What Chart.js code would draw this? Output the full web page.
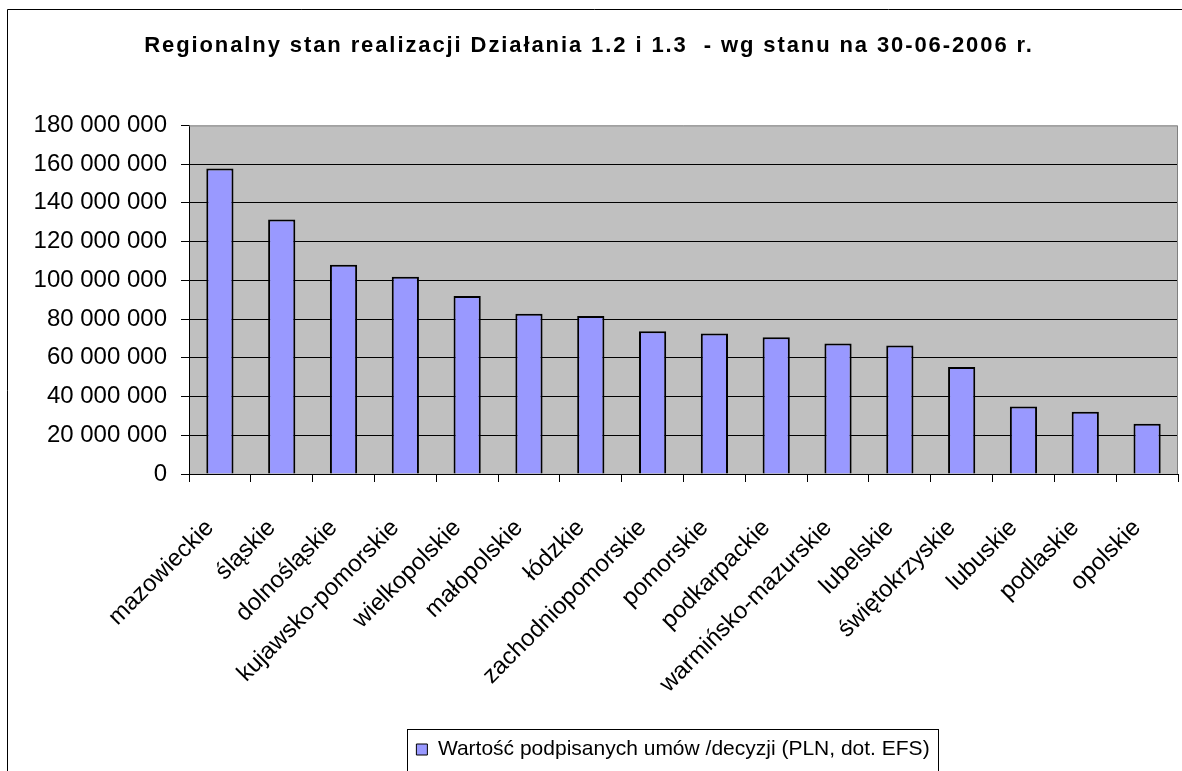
<!DOCTYPE html>
<html>
<head>
<meta charset="utf-8">
<script src="https://cdn.jsdelivr.net/npm/chart.js@4.4.1/dist/chart.umd.min.js"></script>
<style>
  html, body { margin: 0; padding: 0; background: #fff; }
</style>
</head>
<body>
<canvas id="chart" width="1182" height="771"></canvas>
<script>
// data
const regions = [
  'mazowieckie', 'śląskie', 'dolnośląskie', 'kujawsko-pomorskie', 'wielkopolskie',
  'małopolskie', 'łódzkie', 'zachodniopomorskie', 'pomorskie', 'podkarpackie',
  'warmińsko-mazurskie', 'lubelskie', 'świętokrzyskie', 'lubuskie', 'podlaskie', 'opolskie'
];
const contractValues = [
  157800000, 131400000, 108000000, 101900000, 91900000,
  82700000, 81600000, 73700000, 72600000, 70600000,
  67400000, 66400000, 55300000, 34800000, 32100000, 26000000
];
const seriesLabel = 'Wartość podpisanych umów /decyzji (PLN, dot. EFS)';
const chartTitle = 'Regionalny stan realizacji Działania 1.2 i 1.3  - wg stanu na 30-06-2006 r.';
const yMin = 0;
const yMax = 180000000;
const yStep = 20000000;

const FONT = '"Liberation Sans", Arial, sans-serif';

function spaced(v) {
  return String(v).replace(/\B(?=(\d{3})+(?!\d))/g, ' ');
}

// gray plot area, frames and legend box
const decor = {
  id: 'decor',
  beforeDraw(chart) {
    const { ctx, chartArea: a } = chart;
    ctx.save();
    ctx.fillStyle = '#ffffff';
    ctx.fillRect(0, 0, chart.width, chart.height);
    ctx.fillStyle = '#c0c0c0';
    ctx.fillRect(a.left, a.top, a.right - a.left, a.bottom - a.top);
    ctx.restore();
  },
  afterLayout(chart) {
    // legend sits right of centre in the original
    chart.legend.left += 84;
    chart.legend.right += 84;
  },
  afterDraw(chart) {
    const { ctx, chartArea: a } = chart;
    ctx.save();
    ctx.lineWidth = 1;
    ctx.strokeStyle = '#808080';
    ctx.beginPath();
    ctx.moveTo(a.left, a.top + 0.5);
    ctx.lineTo(a.right - 0.5, a.top + 0.5);
    ctx.lineTo(a.right - 0.5, a.bottom);
    ctx.stroke();

    // outer frame
    ctx.strokeStyle = '#000';
    ctx.beginPath();
    ctx.moveTo(7.5, chart.height);
    ctx.lineTo(7.5, 9.5);
    ctx.lineTo(chart.width, 9.5);
    ctx.stroke();

    // legend frame
    const lg = chart.legend;
    const lo = chart.options.plugins.legend.labels;
    ctx.font = lo.font.size + 'px ' + FONT;
    const itemW = lo.boxWidth + lo.font.size / 2 + ctx.measureText(seriesLabel).width;
    const x0 = (lg.left + lg.right - itemW) / 2;
    ctx.strokeStyle = '#000';
    ctx.strokeRect(Math.round(x0 - 9) + 0.5, Math.round(lg.top) + 0.5, Math.round(itemW + 18), 60);
    ctx.restore();
  }
};

const chart = new Chart(document.getElementById('chart'), {
  type: 'bar',
  data: {
    labels: regions,
    datasets: [{
      label: seriesLabel,
      data: contractValues,
      backgroundColor: '#9999ff',
      borderColor: '#000000',
      borderWidth: 2,
      barPercentage: 0.44,
      categoryPercentage: 1.0
    }]
  },
  options: {
    responsive: false,
    animation: false,
    devicePixelRatio: 1,
    layout: { padding: { left: 0, right: 4, top: 0, bottom: 1 } },
    plugins: {
      title: {
        display: true,
        text: chartTitle,
        color: '#000',
        font: { family: FONT, size: 22, weight: 'bold' },
        padding: { top: 33, bottom: 66 }
      },
      legend: {
        display: true,
        position: 'bottom',
        labels: {
          color: '#000',
          font: { family: FONT, size: 21 },
          boxWidth: 11,
          boxHeight: 11,
          padding: 10,
          generateLabels() {
            return [{
              text: seriesLabel,
              fillStyle: '#9999ff',
              strokeStyle: '#000',
              lineWidth: 1,
              datasetIndex: 0
            }];
          }
        }
      },
      tooltip: { enabled: false }
    },
    scales: {
      x: {
        offset: true,
        grid: {
          offset: true,
          drawOnChartArea: false,
          drawTicks: true,
          tickLength: 8,
          color: '#000'
        },
        border: { color: '#000', width: 1 },
        ticks: {
          color: '#000',
          font: { family: FONT, size: 24 },
          autoSkip: false,
          minRotation: 45,
          maxRotation: 45,
          padding: 32,
          labelOffset: -10
        },
        afterFit(scale) {
          scale.height = 255;
          scale.paddingLeft = 0;
          scale.paddingRight = 0;
        }
      },
      y: {
        min: yMin,
        max: yMax,
        grid: {
          color: (c) => (c.tick && c.tick.value === yMax ? 'rgba(0,0,0,0)' : '#000'),
          tickColor: '#000',
          lineWidth: 1,
          tickLength: 8
        },
        border: { color: '#000', width: 1 },
        ticks: {
          stepSize: yStep,
          color: '#000',
          font: { family: FONT, size: 24 },
          padding: 14,
          callback: (v) => spaced(v)
        },
        afterFit(scale) { scale.width = 189; }
      }
    }
  },
  plugins: [decor]
});

// the original title is drawn with wide letter spacing
const titleBox = chart.titleBlock;
const drawTitle = titleBox.draw.bind(titleBox);
titleBox.draw = function () {
  const ctx = chart.ctx;
  ctx.save();
  ctx.letterSpacing = '1.9px';
  drawTitle();
  ctx.restore();
};
chart.draw();
</script>
</body>
</html>
